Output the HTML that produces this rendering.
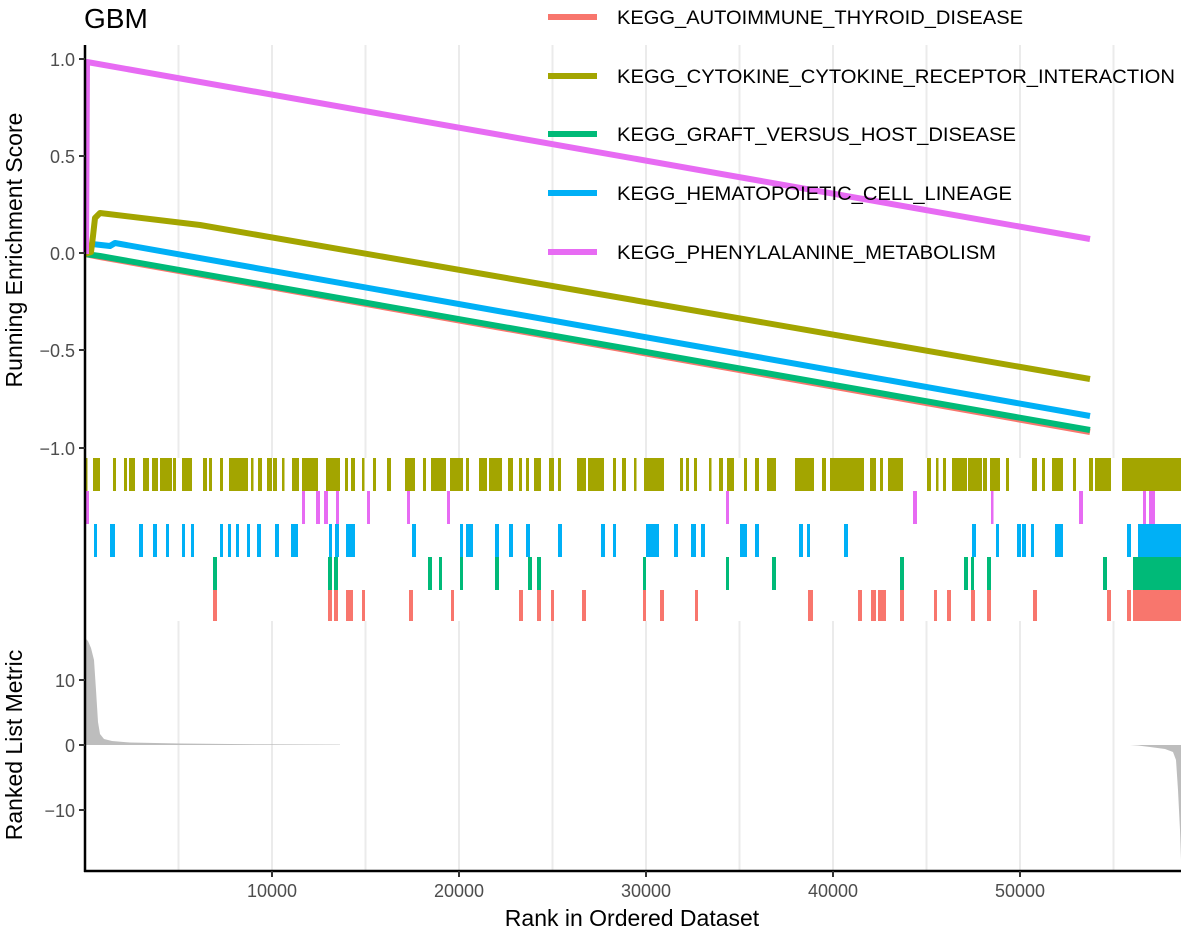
<!DOCTYPE html>
<html><head><meta charset="utf-8"><style>
html,body{margin:0;padding:0;background:#fff;}
svg{display:block;font-family:"Liberation Sans",sans-serif;}
</style></head><body>
<svg id="s" width="1181" height="930" viewBox="0 0 1181 930" xmlns="http://www.w3.org/2000/svg">
<rect width="1181" height="930" fill="#fff"/>
<g id="grid" stroke="#ebebeb" stroke-width="2"></g>
<g id="rug"></g>
<path d="M85,745 L85,638 L88,641 L91,648 L94,660 L96,690 L98,722 L100,734 L104,739 L112,741 L130,742.5 L180,743.5 L260,744.3 L340,744.6 L340,745 Z" fill="#bdbdbd"/>
<path d="M1130,745 L1138,745.5 L1150,747 L1165,749 L1173,752 L1176,760 L1178,790 L1180,830 L1181,860 L1181,745 Z" fill="#bdbdbd"/>
<g fill="none" stroke-width="6" stroke-linejoin="round">
<polyline stroke="#f8766d" points="85,254 100,257 1090,432"/>
<polyline stroke="#00ba78" points="85,254 100,256 1090,430"/>
<polyline stroke="#00b0f6" points="85,254 92,244 110,246 115,243 1090,416"/>
<polyline stroke="#a3a500" points="85,254 91,252 93,236 95,218 100,213 200,225 1090,379"/>
<polyline stroke="#e76bf3" points="86,254 87,62 1090,239"/>
</g>
<g stroke="#000" stroke-width="2.5"><line x1="85" y1="45" x2="85" y2="872"/><line x1="84" y1="871" x2="1181" y2="871"/></g>
<g stroke="#333" stroke-width="2">
<line x1="79" y1="59" x2="85" y2="59"/><line x1="79" y1="156" x2="85" y2="156"/><line x1="79" y1="253" x2="85" y2="253"/><line x1="79" y1="350" x2="85" y2="350"/><line x1="79" y1="448" x2="85" y2="448"/>
<line x1="79" y1="680" x2="85" y2="680"/><line x1="79" y1="745" x2="85" y2="745"/><line x1="79" y1="810" x2="85" y2="810"/>
<line x1="272" y1="871" x2="272" y2="877"/><line x1="459" y1="871" x2="459" y2="877"/><line x1="646" y1="871" x2="646" y2="877"/><line x1="833" y1="871" x2="833" y2="877"/><line x1="1020" y1="871" x2="1020" y2="877"/>
</g>
<g fill="#4d4d4d" font-size="18" text-anchor="end">
<text x="75" y="66">1.0</text><text x="75" y="163">0.5</text><text x="75" y="260">0.0</text><text x="75" y="357">−0.5</text><text x="75" y="455">−1.0</text>
<text x="75" y="687">10</text><text x="75" y="752">0</text><text x="75" y="817">−10</text>
</g>
<g fill="#4d4d4d" font-size="18" text-anchor="middle">
<text x="272" y="897">10000</text><text x="459" y="897">20000</text><text x="646" y="897">30000</text><text x="833" y="897">40000</text><text x="1020" y="897">50000</text>
</g>
<text x="632" y="926" font-size="23" text-anchor="middle" fill="#000">Rank in Ordered Dataset</text>
<text transform="translate(22,250) rotate(-90)" font-size="23" text-anchor="middle" fill="#000">Running Enrichment Score</text>
<text transform="translate(22,745) rotate(-90)" font-size="23" text-anchor="middle" fill="#000">Ranked List Metric</text>
<text x="84" y="28" font-size="28" fill="#000">GBM</text>
<g stroke-width="6">
<line x1="548" y1="17" x2="597" y2="17" stroke="#f8766d"/>
<line x1="548" y1="76" x2="597" y2="76" stroke="#a3a500"/>
<line x1="548" y1="134" x2="597" y2="134" stroke="#00ba78"/>
<line x1="548" y1="193" x2="597" y2="193" stroke="#00b0f6"/>
<line x1="548" y1="252" x2="597" y2="252" stroke="#e76bf3"/>
</g>
<g font-size="19" fill="#000">
<text x="617" y="24" textLength="406" lengthAdjust="spacingAndGlyphs">KEGG_AUTOIMMUNE_THYROID_DISEASE</text>
<text x="617" y="83" textLength="558" lengthAdjust="spacingAndGlyphs">KEGG_CYTOKINE_CYTOKINE_RECEPTOR_INTERACTION</text>
<text x="617" y="141" textLength="399" lengthAdjust="spacingAndGlyphs">KEGG_GRAFT_VERSUS_HOST_DISEASE</text>
<text x="617" y="200" textLength="395" lengthAdjust="spacingAndGlyphs">KEGG_HEMATOPOIETIC_CELL_LINEAGE</text>
<text x="617" y="259" textLength="379" lengthAdjust="spacingAndGlyphs">KEGG_PHENYLALANINE_METABOLISM</text>
</g>
<script>
var NS="http://www.w3.org/2000/svg";
var g=document.getElementById("grid");
for(var i=1;i<=11;i++){var x=85+i*93.5;
 [[45,458],[621,870]].forEach(function(r){var l=document.createElementNS(NS,"line");l.setAttribute("x1",x);l.setAttribute("x2",x);l.setAttribute("y1",r[0]);l.setAttribute("y2",r[1]);g.appendChild(l);});}
var rug=document.getElementById("rug");
function row(col,y1,y2,list){list.forEach(function(p){var r=document.createElementNS(NS,"rect");r.setAttribute("x",p[0]);r.setAttribute("width",Math.max(p[1]-p[0],2.5));r.setAttribute("y",y1);r.setAttribute("height",y2-y1);r.setAttribute("fill",col);rug.appendChild(r);});}
row("#a3a500",458,491,[[85,87],[93,100],[113,116],[124,127],[129,135],[143,149],[152,158],[160,172],[173,176],[182,192],[203,207],[209,212],[220,223],[229,248],[251,253],[258,262],[267,272],[273,277],[282,284],[292,299],[302,318],[326,340],[345,348],[351,355],[362,364],[373,376],[387,391],[405,415],[423,426],[431,446],[450,463],[466,469],[479,487],[489,502],[508,513],[519,522],[526,529],[534,541],[549,554],[558,561],[577,586],[588,604],[613,616],[622,626],[634,636],[644,664],[680,683],[686,689],[694,697],[709,711],[719,723],[727,734],[744,747],[755,759],[767,776],[795,814],[822,826],[830,864],[870,876],[880,883],[888,903],[927,931],[936,938],[943,946],[952,967],[968,982],[983,987],[990,1000],[1006,1009],[1032,1037],[1042,1045],[1052,1063],[1073,1076],[1089,1093],[1095,1111],[1122,1181]]);
row("#e76bf3",491,524,[[85,89],[302,305],[316,320],[324,328],[336,339],[367,370],[407,410],[447,450],[726,729],[913,917],[991,993],[1079,1083],[1143,1146],[1149,1155]]);
row("#00b0f6",524,557,[[94,97],[110,115],[139,143],[153,157],[166,169],[182,185],[191,194],[220,223],[228,231],[236,239],[247,250],[257,261],[275,279],[291,298],[329,332],[335,339],[346,355],[412,416],[460,463],[466,473],[495,499],[509,513],[526,530],[558,562],[601,605],[613,616],[646,659],[674,678],[691,696],[701,705],[740,747],[755,759],[799,803],[807,810],[844,848],[972,976],[996,999],[1017,1021],[1022,1026],[1031,1034],[1055,1063],[1127,1131],[1138,1181]]);
row("#00ba78",557,590,[[213,217],[328,332],[334,338],[428,432],[439,442],[460,463],[495,499],[528,532],[537,541],[643,646],[726,729],[772,776],[900,904],[964,968],[971,974],[987,991],[1103,1107],[1133,1181]]);
row("#f8766d",590,621,[[213,217],[328,332],[334,338],[346,353],[362,365],[409,413],[451,454],[519,523],[537,541],[551,554],[582,586],[643,646],[660,664],[695,698],[808,813],[858,862],[871,876],[878,886],[900,904],[934,937],[947,951],[971,975],[987,991],[1033,1037],[1107,1111],[1127,1131],[1133,1181]]);
</script>
</svg>
</body></html>
